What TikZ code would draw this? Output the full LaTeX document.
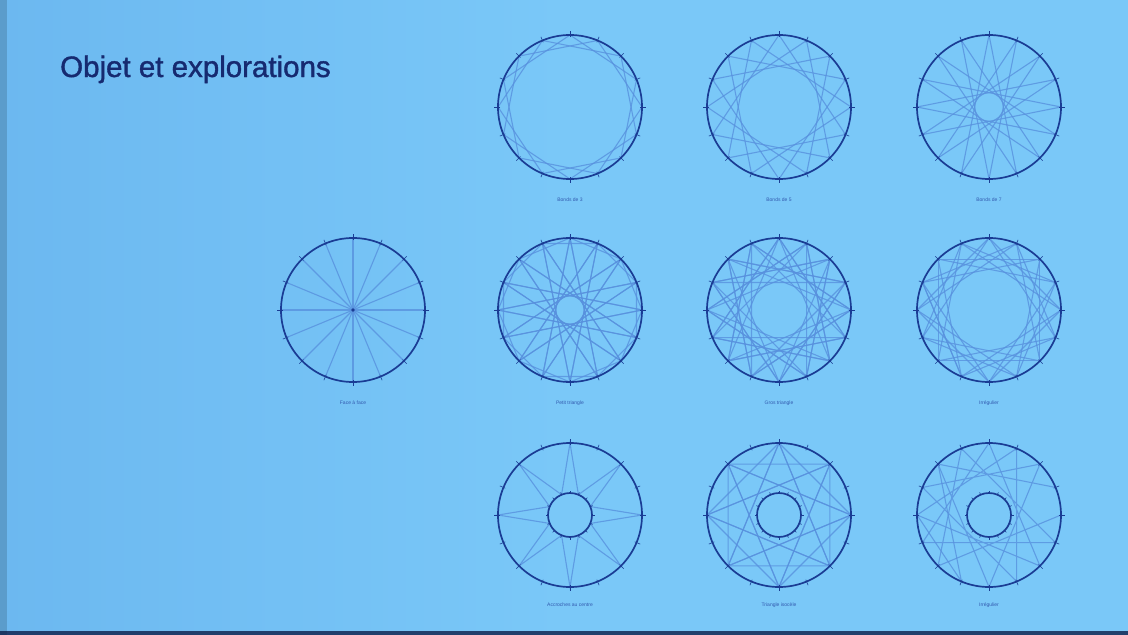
\documentclass[tikz,border=0pt]{standalone}
\usepackage{fontspec}
\setmainfont{Liberation Sans}
\newfontfamily\titlefont[FakeBold=1.3]{Liberation Sans}
\definecolor{bgA}{RGB}{122,200,248}
\definecolor{bgB}{RGB}{108,184,240}
\definecolor{rim}{RGB}{26,60,148}
\definecolor{thread}{RGB}{88,145,222}
\definecolor{titlec}{RGB}{22,42,112}
\definecolor{capc}{RGB}{50,90,175}
\tikzset{
  rimline/.style={draw=rim, line width=1.7pt},
  threadline/.style={draw=thread, line width=1.1pt, opacity=0.8},
  tickline/.style={draw=rim, line width=0.6pt},
  caption/.style={text=capc, font=\fontsize{5}{6}\selectfont, anchor=center},
}
\newcommand\mkring{%
  \draw[rimline] (0,0) circle (72);
  \foreach \k in {0,...,15} \draw[tickline] ({22.5*\k}:70) -- ({22.5*\k}:76);
}
\newcommand\mkinner{%
  \draw[rimline] (0,0) circle (22);
  \foreach \k in {0,...,15} \draw[tickline] ({22.5*\k}:21) -- ({22.5*\k}:24.5);
}
\begin{document}
\begin{tikzpicture}[x=1pt,y=-1pt]
\useasboundingbox (0,0) rectangle (1128,635);
\shade[left color=bgB, right color=bgA, middle color=bgA] (0,0) rectangle (1128,635);
\fill[bgB!70!black, opacity=0.5] (0,0) rectangle (7,635);
\fill[rim!50!black, opacity=0.8] (0,631) rectangle (1128,635);
\node[anchor=base west, inner sep=0pt, text=titlec, font=\titlefont\fontsize{29.5}{36}\selectfont] (title) at (60,77) {Objet et explorations};

% Row 1 ---------------------------------------------------
\begin{scope}[shift={(570,107)}]
  \foreach \k in {0,...,15} \draw[threadline] ({22.5*\k}:72) -- ({22.5*(\k+3)}:72);
  \mkring
  \node[caption] (c1) at (0,93) {Bonds de 3};
\end{scope}
\begin{scope}[shift={(779,107)}]
  \foreach \k in {0,...,15} \draw[threadline] ({22.5*\k}:72) -- ({22.5*(\k+5)}:72);
  \mkring
  \node[caption] (c2) at (0,93) {Bonds de 5};
\end{scope}
\begin{scope}[shift={(989,107)}]
  \foreach \k in {0,...,15} \draw[threadline] ({22.5*\k}:72) -- ({22.5*(\k+7)}:72);
  \mkring
  \node[caption] (c3) at (0,93) {Bonds de 7};
\end{scope}

% Row 2 ---------------------------------------------------
\begin{scope}[shift={(353,310)}]
  \foreach \k in {0,...,15} \draw[threadline] (0,0) -- ({22.5*\k}:72);
  \fill[rim] (0,0) circle (1.8);
  \mkring
  \node[caption] (c4) at (0,93) {Face à face};
\end{scope}
\begin{scope}[shift={(570,310)}]
  \foreach \k in {0,...,15}
    \draw[threadline] ({22.5*\k}:72) -- ({22.5*(\k+7)}:72) -- ({22.5*(\k+14)}:72) -- cycle;
  \mkring
  \node[caption] (c5) at (0,93) {Petit triangle};
\end{scope}
\begin{scope}[shift={(779,310)}]
  \foreach \k in {0,...,15}
    \draw[threadline] ({22.5*\k}:72) -- ({22.5*(\k+6)}:72) -- ({22.5*(\k+11)}:72) -- cycle;
  \mkring
  \node[caption] (c6) at (0,93) {Gros triangle};
\end{scope}
\begin{scope}[shift={(989,310)}]
  \foreach \k in {0,...,15} {
    \draw[threadline] ({22.5*\k}:72) -- ({22.5*(\k+5)}:72);
    \draw[threadline] ({22.5*\k}:72) -- ({22.5*(\k+4)}:72);
  }
  \draw[threadline] (202.5:72) -- (112.5:72);
  \mkring
  \node[caption] (c7) at (0,93) {Irrégulier};
\end{scope}

% Row 3 ---------------------------------------------------
\begin{scope}[shift={(570,515)}]
  \foreach \k in {0,...,7}
    \draw[threadline] ({45*\k-22.5}:22) -- ({45*\k}:72) -- ({45*\k+22.5}:22);
  \mkinner
  \mkring
  \node[caption] (c8) at (0,90) {Accroches au centre};
\end{scope}
\begin{scope}[shift={(779,515)}]
  \foreach \k in {0,2,...,14}
    \draw[threadline] ({22.5*\k}:72) -- ({22.5*(\k+6)}:72) -- ({22.5*(\k+12)}:72) -- cycle;
  \mkinner
  \mkring
  \node[caption] (c9) at (0,90) {Triangle isocèle};
\end{scope}
\begin{scope}[shift={(989,515)}]
  \draw[threadline] (0:72) \foreach \i in {6,11,1,7,12,2,8,13,3,9,14,4,10,15} { -- ({22.5*\i}:72) };
  \draw[threadline] (225:72) -- (112.5:72) -- (180:72);
  \mkinner
  \mkring
  \node[caption] (c10) at (0,90) {Irrégulier};
\end{scope}
\end{tikzpicture}
\end{document}
